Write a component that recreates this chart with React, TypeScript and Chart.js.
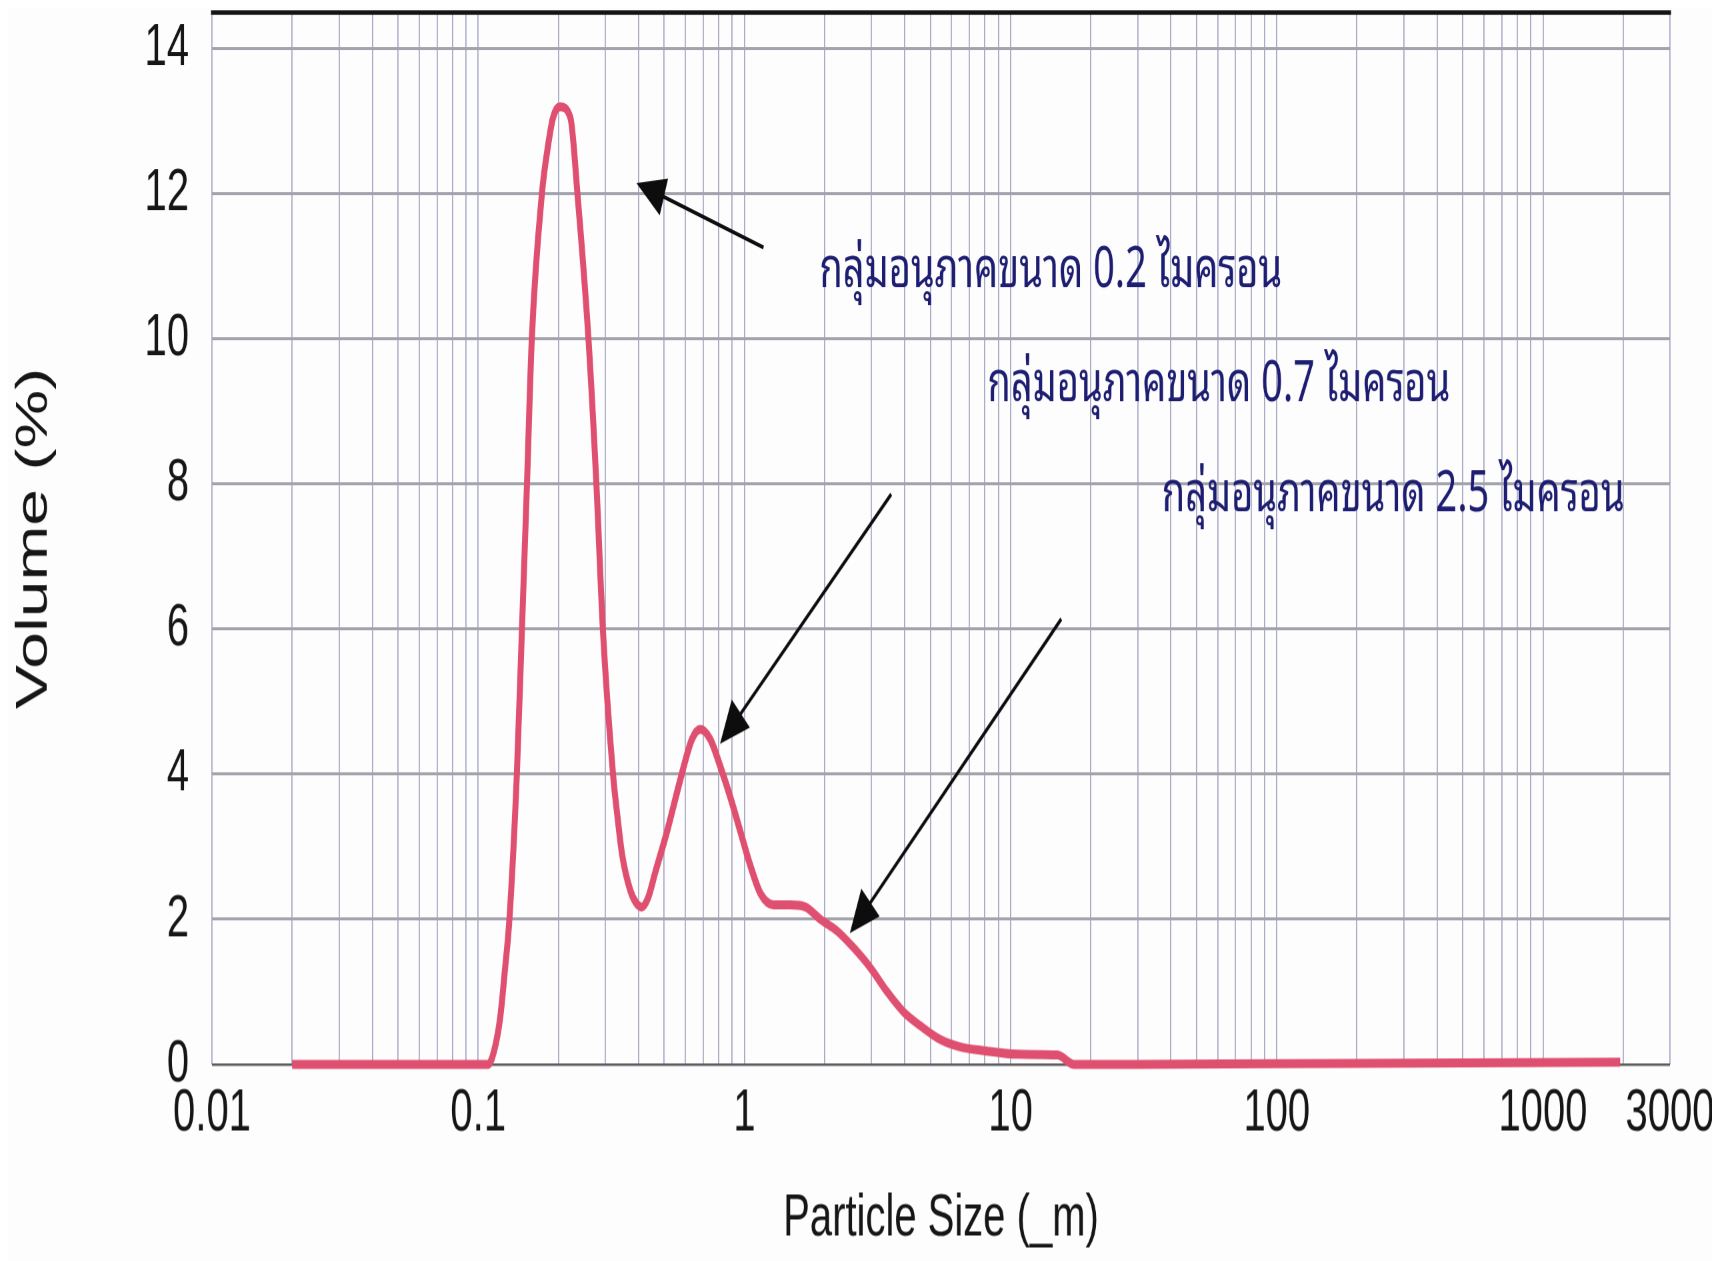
import React, { useEffect, useRef } from 'react';
import { Chart, registerables } from 'chart.js';

Chart.register(...registerables);

// ---- data ----
const SIZES = [
  0.02, 0.03, 0.05, 0.08, 0.109, 0.115, 0.121, 0.126, 0.131, 0.1397, 0.146, 0.1525, 0.159,
  0.1735, 0.1836, 0.191, 0.203, 0.222, 0.236, 0.2596, 0.278, 0.294, 0.321, 0.334, 0.347,
  0.3726, 0.393, 0.412, 0.435, 0.462, 0.512, 0.574, 0.635, 0.683, 0.745, 0.813, 0.886, 0.966,
  1.053, 1.148, 1.286, 1.489, 1.695, 1.93, 2.23, 2.57, 2.98, 3.44, 3.97, 4.59, 5.46, 6.49,
  7.94, 10.6, 15.0, 17.3, 30, 100, 500, 1950,
];
const VOLUMES = [
  0, 0, 0, 0, 0, 0.2, 0.65, 1.3, 2.0, 4.0, 6.0, 8.0, 10.0,
  12.0, 12.7, 13.05, 13.2, 13.05, 12.0, 10.0, 8.0, 6.0, 4.0, 3.4, 2.9,
  2.4, 2.22, 2.17, 2.3, 2.64, 3.21, 3.92, 4.48, 4.62, 4.48, 4.1, 3.68, 3.21,
  2.74, 2.36, 2.2, 2.2, 2.17, 2.0, 1.84, 1.61, 1.33, 1.0, 0.72, 0.53, 0.34, 0.24,
  0.19, 0.14, 0.13, 0, 0, 0.01, 0.02, 0.03,
];

const X_GRID_VALUES = [
  0.01, 0.02, 0.03, 0.04, 0.05, 0.06, 0.07, 0.08, 0.09,
  0.1, 0.2, 0.3, 0.4, 0.5, 0.6, 0.7, 0.8, 0.9,
  1, 2, 3, 4, 5, 6, 7, 8, 9,
  10, 20, 30, 40, 50, 60, 70, 80, 90,
  100, 200, 300, 400, 500, 600, 700, 800, 900,
  1000, 2000, 3000,
];
const X_LABEL_VALUES = [0.01, 0.1, 1, 10, 100, 1000, 3000];
const X_LABELS = ['0.01', '0.1', '1', '10', '100', '1000', '3000'];
const Y_MIN = 0;
const Y_MAX = 14.5;
const Y_STEP = 2;

const X_TITLE = 'Particle Size (_m)';
const Y_TITLE = 'Volume (%)';

const NOTE_TEXTS = [
  'กลุ่มอนุภาคขนาด 0.2 ไมครอน',
  'กลุ่มอนุภาคขนาด 0.7 ไมครอน',
  'กลุ่มอนุภาคขนาด 2.5 ไมครอน',
];
const NOTE_SIZE = [1.914, 8.19, 37.0];
const NOTE_VOLUME = [10.94, 9.37, 7.84];

const ARROW_TAIL_SIZE = [1.18, 3.56, 15.5];
const ARROW_TAIL_VOLUME = [11.26, 7.86, 6.14];
const ARROW_TIP_SIZE = [0.393, 0.81, 2.49];
const ARROW_TIP_VOLUME = [12.15, 4.42, 1.81];

// ---- styles ----
const LATIN_FONT = "'Liberation Sans', Arial, Helvetica, sans-serif";
const THAI_FONT =
  "'Noto Sans Thai Looped', 'Noto Serif Thai', Kinnari, Garuda, Loma, 'Noto Sans Thai', 'Liberation Serif', serif";
const CURVE_COLOR = '#df4f70';
const TEXT_COLOR = '#161616';
const NOTE_COLOR = '#1d1d72';

const framePlugin = {
  id: 'frameTop',
  beforeDatasetsDraw(chart: any) {
    const { ctx, chartArea } = chart;
    ctx.save();
    ctx.strokeStyle = '#141414';
    ctx.lineWidth = 3;
    ctx.beginPath();
    ctx.moveTo(chartArea.left - 1, chartArea.top);
    ctx.lineTo(chartArea.right + 1, chartArea.top);
    ctx.stroke();
    ctx.restore();
  },
};

const notesPlugin = {
  id: 'notes',
  afterDatasetsDraw(chart: any) {
    const { ctx } = chart;
    const xs = chart.scales.x;
    const ys = chart.scales.y;
    ctx.save();
    for (let i = 0; i < ARROW_TIP_SIZE.length; i++) {
      const x0 = xs.getPixelForValue(ARROW_TAIL_SIZE[i]);
      const y0 = ys.getPixelForValue(ARROW_TAIL_VOLUME[i]);
      const x1 = xs.getPixelForValue(ARROW_TIP_SIZE[i]);
      const y1 = ys.getPixelForValue(ARROW_TIP_VOLUME[i]);
      const dx = x1 - x0;
      const dy = y1 - y0;
      const len = Math.hypot(dx, dy);
      const ux = dx / len;
      const uy = dy / len;
      const headLen = 29;
      const headHalf = 13;
      const bx = x1 - ux * headLen;
      const by = y1 - uy * headLen;
      ctx.strokeStyle = '#0d0d0d';
      ctx.lineWidth = 2.6;
      ctx.beginPath();
      ctx.moveTo(x0, y0);
      ctx.lineTo(bx + ux * 4, by + uy * 4);
      ctx.stroke();
      ctx.fillStyle = '#0d0d0d';
      ctx.beginPath();
      ctx.moveTo(x1, y1);
      ctx.lineTo(bx - uy * headHalf, by + ux * headHalf);
      ctx.lineTo(bx + uy * headHalf, by - ux * headHalf);
      ctx.closePath();
      ctx.fill();
    }
    ctx.fillStyle = NOTE_COLOR;
    ctx.font = `38px ${THAI_FONT}`;
    ctx.textAlign = 'left';
    ctx.textBaseline = 'middle';
    for (let i = 0; i < NOTE_TEXTS.length; i++) {
      const x = xs.getPixelForValue(NOTE_SIZE[i]);
      const y = ys.getPixelForValue(NOTE_VOLUME[i]);
      ctx.fillText(NOTE_TEXTS[i], x, y);
    }
    ctx.restore();
  },
};

export default function App() {
  const canvasRef = useRef<HTMLCanvasElement | null>(null);

  useEffect(() => {
    const canvas = canvasRef.current;
    if (!canvas) return;
    const points = SIZES.map((s, i) => ({ x: s, y: VOLUMES[i] }));
    const chart = new Chart(canvas, {
      type: 'line',
      data: {
        datasets: [
          {
            data: points,
            borderColor: CURVE_COLOR,
            borderWidth: 6,
            pointRadius: 0,
            fill: false,
            cubicInterpolationMode: 'monotone',
            clip: false as any,
          },
        ],
      },
      options: {
        responsive: true,
        maintainAspectRatio: false,
        animation: false,
        devicePixelRatio: 1.5,
        layout: { padding: { top: 3, right: 50, bottom: 0, left: 0 } },
        plugins: {
          legend: { display: false },
          tooltip: { enabled: false },
          title: { display: false },
        },
        scales: {
          x: {
            type: 'logarithmic',
            min: 0.01,
            max: 3000,
            position: 'bottom',
            afterBuildTicks: (scale: any) => {
              scale.ticks = X_GRID_VALUES.map((v) => ({ value: v }));
            },
            afterFit: (scale: any) => {
              scale.height = 131;
              scale.paddingLeft = 0;
              scale.paddingRight = 0;
            },
            grid: {
              color: '#a7a9c4',
              lineWidth: 1.2,
              drawTicks: false,
              tickLength: 0,
            },
            border: { display: false },
            ticks: {
              autoSkip: false,
              maxRotation: 0,
              minRotation: 0,
              padding: 9,
              color: TEXT_COLOR,
              font: { family: LATIN_FONT, size: 40 },
              callback: (value: any) => {
                const v = Number(value);
                const idx = X_LABEL_VALUES.findIndex((t) => Math.abs(t - v) / t < 1e-6);
                return idx >= 0 ? X_LABELS[idx] : '';
              },
            },
            title: {
              display: true,
              text: X_TITLE,
              color: TEXT_COLOR,
              font: { family: LATIN_FONT, size: 40 },
              padding: { top: 0, bottom: 4 },
            },
          },
          y: {
            type: 'linear',
            min: Y_MIN,
            max: Y_MAX,
            afterFit: (scale: any) => {
              scale.width = 204;
              scale.paddingTop = 0;
              scale.paddingBottom = 0;
            },
            grid: {
              color: (ctx: any) => (ctx.tick && ctx.tick.value === 0 ? '#5c5c5c' : '#a3a3ae'),
              lineWidth: (ctx: any) => (ctx.tick && ctx.tick.value === 0 ? 1.6 : 2),
              drawTicks: false,
              tickLength: 0,
            },
            border: { display: false },
            ticks: {
              stepSize: Y_STEP,
              includeBounds: false,
              padding: 23,
              color: TEXT_COLOR,
              font: { family: LATIN_FONT, size: 40 },
            },
            title: {
              display: true,
              text: Y_TITLE,
              color: TEXT_COLOR,
              font: { family: LATIN_FONT, size: 44 },
              padding: { top: 0, bottom: 0 },
            },
          },
        },
      },
      plugins: [framePlugin, notesPlugin],
    } as any);
    return () => chart.destroy();
  }, []);

  return (
    <div style={{ width: 1712, height: 1253, overflow: 'hidden', background: '#fdfdfe' }}>
      <div
        style={{
          position: 'relative',
          width: 1712,
          height: 835,
          transform: 'scaleY(1.5)',
          transformOrigin: '0 0',
        }}
      >
        <canvas ref={canvasRef} />
      </div>
    </div>
  );
}
